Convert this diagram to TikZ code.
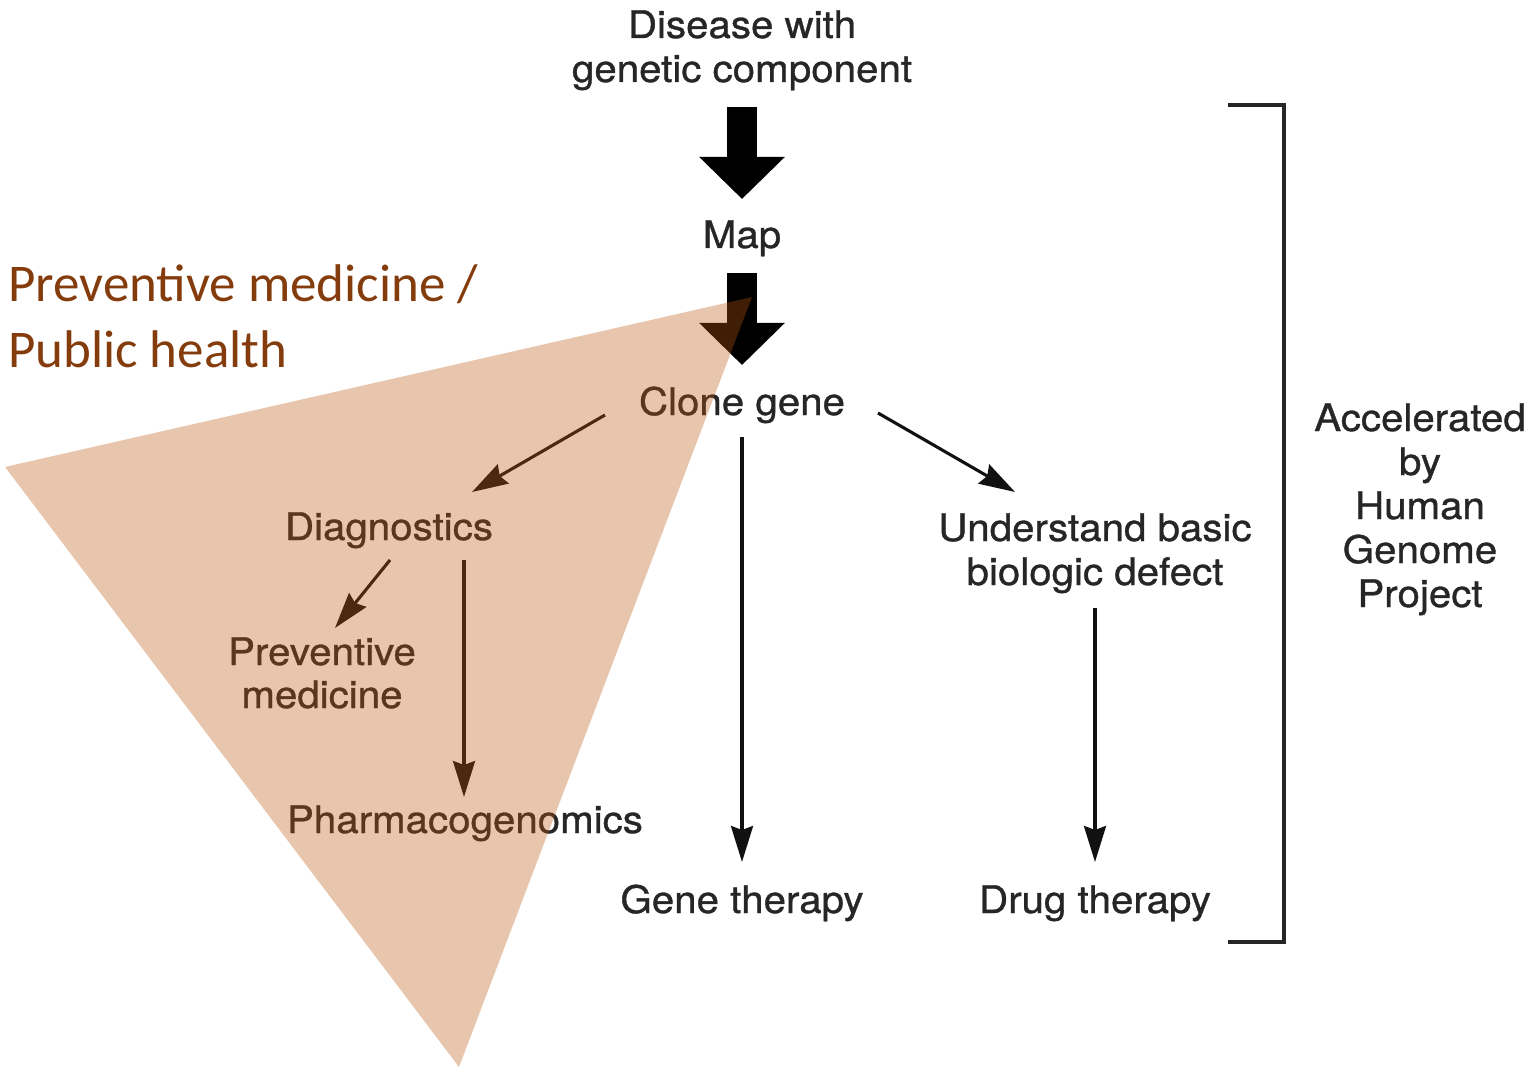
\documentclass[tikz,border=0pt]{standalone}
\usepackage{fontspec}
\setmainfont{TeX Gyre Heros}[FakeStretch=1.06,FakeBold=0.9]
\newfontfamily\calib{Carlito}
\usetikzlibrary{arrows.meta}
\definecolor{txt}{HTML}{262626}
\definecolor{ink}{HTML}{111111}
\definecolor{rust}{HTML}{843C0C}
\definecolor{wedge}{rgb}{0.74,0.35,0.065}

\begin{document}
\begin{tikzpicture}[x=1pt,y=-1pt,
  lbl/.style={anchor=base, inner sep=0pt, text=txt, font=\fontsize{38}{44}\selectfont},
  ttl/.style={anchor=base west, inner sep=0pt, text=rust, font=\calib\fontsize{53}{65}\selectfont},
  flow/.style={draw=ink, line width=3.1pt, -{Stealth[length=36pt,width=22pt,inset=4pt]}},
  block/.style={draw=black, line width=30pt, -{Triangle[length=42pt,width=83pt]}},
  bracket/.style={draw=txt, line width=3.2pt},
  wedgefill/.style={fill=wedge, fill opacity=0.34}]

\useasboundingbox (0,0) rectangle (1537,1067);

% labels of the flow chart
\node[lbl] (dis1) at (742,38) {Disease with};
\node[lbl] (dis2) at (742,82) {genetic component};
\node[lbl] (map)  at (742,248) {Map};
\node[lbl] (clone) at (742,415) {Clone gene};
\node[lbl] (diag) at (389,540) {Diagnostics};
\node[lbl] (prev1) at (322,665) {Preventive};
\node[lbl] (prev2) at (322,708) {medicine};
\node[lbl] (pharm) at (465,833) {Pharmacogenomics};
\node[lbl] (und1) at (1095,541) {Understand basic};
\node[lbl] (und2) at (1095,585) {biologic defect};
\node[lbl] (gene) at (742,913) {Gene therapy};
\node[lbl] (drug) at (1095,913) {Drug therapy};

\node[lbl] (acc1) at (1420,431) {Accelerated};
\node[lbl] (acc2) at (1420,475) {by};
\node[lbl] (acc3) at (1420,519) {Human};
\node[lbl] (acc4) at (1420,563) {Genome};
\node[lbl] (acc5) at (1420,607) {Project};

% connector end points
\coordinate (b1s) at (742,107);  \coordinate (b1e) at (742,199);
\coordinate (b2s) at (742,273);  \coordinate (b2e) at (742,365);
\coordinate (cd1) at (605,415);  \coordinate (cd2) at (472,492);
\coordinate (dp1) at (390,560);  \coordinate (dp2) at (335,628);
\coordinate (dh1) at (464,560);  \coordinate (dh2) at (464,797);
\coordinate (cg1) at (742,437);  \coordinate (cg2) at (742,862);
\coordinate (cu1) at (878,413);  \coordinate (cu2) at (1015,492);
\coordinate (ud1) at (1095,608); \coordinate (ud2) at (1095,862);

% heavy arrows
\draw[block] (b1s) -- (b1e);
\draw[block] (b2s) -- (b2e);

% thin arrows
\draw[flow] (cd1) -- (cd2);
\draw[flow] (dp1) -- (dp2);
\draw[flow] (dh1) -- (dh2);
\draw[flow] (cg1) -- (cg2);
\draw[flow] (cu1) -- (cu2);
\draw[flow] (ud1) -- (ud2);

% bracket spanning the pipeline
\draw[bracket] (1228,105) -| (1284,942) -- (1228,942);

% translucent wedge over the public-health branch
\fill[wedgefill] (752,297) -- (5,467) -- (459,1067) -- cycle;

% heading of the wedge
\node[ttl] (ph1) at (8,302) {Preventive medicine /};
\node[ttl] (ph2) at (8,367) {Public health};
\end{tikzpicture}
\end{document}
